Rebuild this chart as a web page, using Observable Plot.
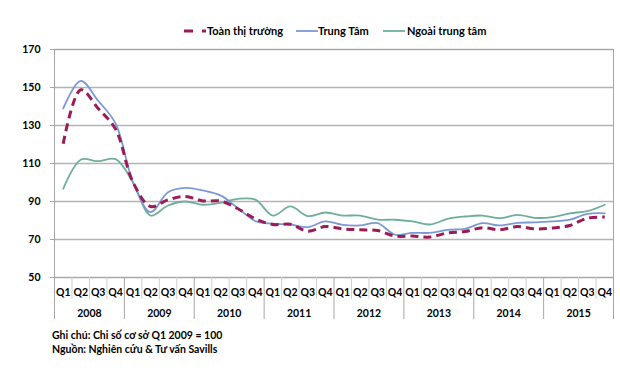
<!DOCTYPE html>
<html>
<head>
<meta charset="utf-8">
<script src="https://cdn.jsdelivr.net/npm/d3@7"></script>
<script src="https://cdn.jsdelivr.net/npm/@observablehq/plot@0.6"></script>
<style>
  html, body { margin: 0; padding: 0; background: #fff; }
  body { width: 620px; height: 371px; position: relative; overflow: hidden;
         font-family: Lato, "DejaVu Sans", sans-serif; font-weight: 700; color: #000; }
  #legend { position: relative; height: 40px; font-size: 11px; }
  #legend .sym { position: absolute; top: 27px; }
  #legend .lab { position: absolute; top: 24px; line-height: 14px; white-space: nowrap; }
  #footer { padding-left: 52px; padding-top: 2.5px; font-size: 10.5px; line-height: 14.5px; }
</style>
</head>
<body>
<div id="legend"></div>
<div id="chart"></div>
<div id="footer"></div>
<script>
// ---- data ----
const years = ["2008", "2009", "2010", "2011", "2012", "2013", "2014", "2015"];
const quarters = ["Q1", "Q2", "Q3", "Q4"];
const seriesNames = ["Toàn thị trường", "Trung Tâm", "Ngoài trung tâm"];
const toanThiTruong = [120.4, 148.8, 139, 128, 100, 87.4, 90.9, 92.6, 90.3, 90.2, 86.2, 80.9,
  77.9, 78, 74.4, 76.8, 75.6, 75.1, 74.7, 71.8, 71.8, 71.3, 73.5, 74.2,
  76.2, 75.1, 76.8, 75.6, 76, 77.4, 81.2, 81.8];
const trungTam = [139, 153.5, 143, 131, 100, 84.4, 94.9, 97.2, 95.8, 93.2, 86.5, 79.7,
  78.3, 77.9, 76.5, 79.5, 77.7, 77.4, 78.6, 72.5, 73.5, 73.5, 75.1, 75.6,
  78.6, 77.4, 78.8, 79, 79.5, 80.4, 83.5, 83.8];
const ngoaiTrungTam = [96.7, 112, 111.2, 112.3, 100, 82.6, 87.9, 90, 88.3, 89.3, 91.4, 91,
  82.6, 87.4, 82.3, 84.2, 82.6, 82.6, 80.5, 80.4, 79.5, 77.9, 80.9, 82.1,
  82.6, 81.2, 83, 81.4, 81.8, 83.8, 84.9, 88.3];
const yTicks = [50, 70, 90, 110, 130, 150, 170];
const noteLines = ["Ghi chú: Chi số cơ sở Q1 2009 = 100", "Nguồn: Nghiên cứu & Tư vấn Savills"];

const colors = ["#9b1b57", "#7b98d6", "#6fae9c"];

// ---- build table ----
const n = years.length * quarters.length;
const idx = d3.range(n);
const rows = (vals) => idx.map(i => ({i, v: vals[i]}));
const qBounds = d3.range(n + 1).map(i => i - 0.5).filter(b => !Number.isInteger((b + 0.5) / 4));
const yBounds = d3.range(years.length + 1).map(k => k * 4 - 0.5);
const yCenters = years.map((y, k) => k * 4 + 1.5);

const chart = Plot.plot({
  width: 620,
  height: 285,
  marginTop: 9,
  marginLeft: 54,
  marginRight: 7,
  marginBottom: 48,
  style: {fontFamily: "Lato, 'DejaVu Sans', sans-serif", fontWeight: 700, fontSize: "10.5px", color: "#000", background: "#fff"},
  x: {type: "linear", domain: [-0.5, n - 0.5], axis: null, label: null},
  y: {domain: [50, 170], axis: null, label: null},
  marks: [
    Plot.gridY(yTicks, {stroke: "#b4b4b4", strokeOpacity: 1, strokeWidth: 1.5}),
    Plot.frame({stroke: "#a6a6a6"}),
    Plot.axisY({ticks: yTicks, label: null, tickSize: 4, tickPadding: 10, stroke: "#a6a6a6", fill: "#000", fontWeight: 700}),
    Plot.axisX({ticks: qBounds, label: null, tickSize: 22, tickFormat: () => "", stroke: "#cfcfcf"}),
    Plot.axisX({ticks: yBounds, label: null, tickSize: 42, tickFormat: () => "", stroke: "#a6a6a6"}),
    Plot.axisX({ticks: idx, label: null, tickSize: 0, tickPadding: 11, tickFormat: i => quarters[i % 4], fill: "#000", fontWeight: 700}),
    Plot.axisX({ticks: yCenters, label: null, tickSize: 0, tickPadding: 32, tickFormat: c => years[Math.round((c - 1.5) / 4)], fill: "#000", fontWeight: 700}),
    Plot.line(rows(ngoaiTrungTam), {x: "i", y: "v", curve: "catmull-rom", stroke: colors[2], strokeWidth: 1.8}),
    Plot.line(rows(trungTam), {x: "i", y: "v", curve: "catmull-rom", stroke: colors[1], strokeWidth: 1.8}),
    Plot.line(rows(toanThiTruong), {x: "i", y: "v", curve: "catmull-rom", stroke: colors[0], strokeWidth: 3, strokeDasharray: "8,5", strokeLinecap: "butt"})
  ]
});
document.getElementById("chart").appendChild(chart);

// ---- legend ----
const legend = d3.select("#legend");
const symX = [184, 296, 383];
const labX = [207, 318, 407];
seriesNames.forEach((name, k) => {
  const s = legend.append("svg").attr("class", "sym").attr("width", 22).attr("height", 8)
    .style("left", symX[k] + "px");
  s.append("line").attr("x1", 0).attr("x2", 22).attr("y1", 4).attr("y2", 4)
    .attr("stroke", colors[k]).attr("stroke-width", k === 0 ? 3 : 1.8)
    .attr("stroke-dasharray", k === 0 ? "9,9" : null);
  legend.append("div").attr("class", "lab").style("left", labX[k] + "px").text(name);
});

// ---- footer ----
d3.select("#footer").selectAll("div").data(noteLines).join("div").text(d => d);
</script>
</body>
</html>
